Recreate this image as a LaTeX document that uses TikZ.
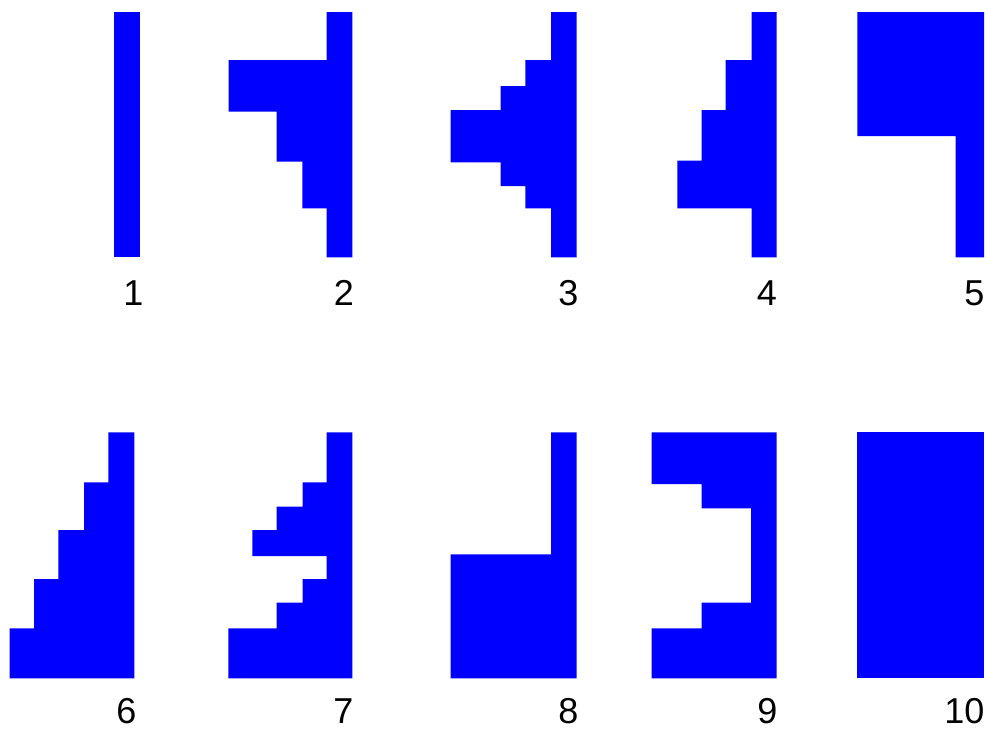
\documentclass[tikz,border=0pt]{standalone}
\usepackage{fontspec}
\setmainfont{Liberation Sans}
\begin{document}
\begin{tikzpicture}[x=1pt,y=-1pt,
  shp/.style={fill={rgb,255:red,0;green,0;blue,255},draw=none},
  lbl/.style={anchor=base east,inner sep=0pt,font=\fontsize{36}{40}\selectfont}]
\useasboundingbox (0,0) rectangle (987,729);
% top row
\path[shp] (114,12) rectangle (140,257.3);
\path[shp] (326.7,12) -- (352.3,12) -- (352.3,257.3) -- (326.7,257.3) -- (326.7,208.3) -- (302.3,208.3) -- (302.3,161.7) -- (276.7,161.7) -- (276.7,111.7) -- (228.7,111.7) -- (228.7,60) -- (326.7,60) -- cycle;
\path[shp] (551,12) -- (576.7,12) -- (576.7,257.3) -- (551,257.3) -- (551,208.3) -- (525.3,208.3) -- (525.3,186) -- (500.7,186) -- (500.7,162.3) -- (450.7,162.3) -- (450.7,110) -- (500.7,110) -- (500.7,86) -- (525.3,86) -- (525.3,60) -- (551,60) -- cycle;
\path[shp] (751.7,12) -- (776.7,12) -- (776.7,257.3) -- (751.7,257.3) -- (751.7,208.3) -- (677.3,208.3) -- (677.3,160.7) -- (701.7,160.7) -- (701.7,110) -- (725.7,110) -- (725.7,60) -- (751.7,60) -- cycle;
\path[shp] (857.3,12) -- (984,12) -- (984,257.3) -- (955.7,257.3) -- (955.7,136) -- (857.3,136) -- cycle;
% bottom row
\path[shp] (108.3,432.3) -- (134.3,432.3) -- (134.3,678.3) -- (9.7,678.3) -- (9.7,628.3) -- (34,628.3) -- (34,579) -- (58.3,579) -- (58.3,530) -- (84,530) -- (84,482.3) -- (108.3,482.3) -- cycle;
\path[shp] (326.7,432.3) -- (352.3,432.3) -- (352.3,678.3) -- (228.3,678.3) -- (228.3,628.3) -- (276.7,628.3) -- (276.7,602.7) -- (302.7,602.7) -- (302.7,579) -- (326.7,579) -- (326.7,556) -- (252.3,556) -- (252.3,530) -- (276.7,530) -- (276.7,506.7) -- (302.7,506.7) -- (302.7,482.3) -- (326.7,482.3) -- cycle;
\path[shp] (551,432.3) -- (576.7,432.3) -- (576.7,678.3) -- (450.7,678.3) -- (450.7,554.3) -- (551,554.3) -- cycle;
\path[shp] (651.7,432.3) -- (776.7,432.3) -- (776.7,678.3) -- (651.7,678.3) -- (651.7,628.3) -- (701.7,628.3) -- (701.7,602.7) -- (751,602.7) -- (751,508.3) -- (701.7,508.3) -- (701.7,484) -- (651.7,484) -- cycle;
\path[shp] (857.3,432.3) rectangle (984,678.3);
% labels
\node[lbl] (l1) at (143.6,305) {1};
\node[lbl] (l2) at (354,305) {2};
\node[lbl] (l3) at (578.5,305) {3};
\node[lbl] (l4) at (777,305) {4};
\node[lbl] (l5) at (984.5,305) {5};
\node[lbl] (l6) at (136.5,723) {6};
\node[lbl] (l7) at (353.5,723) {7};
\node[lbl] (l8) at (578.5,723) {8};
\node[lbl] (l9) at (777.5,723) {9};
\node[lbl] (l10) at (984.5,723) {10};
\end{tikzpicture}
\end{document}
